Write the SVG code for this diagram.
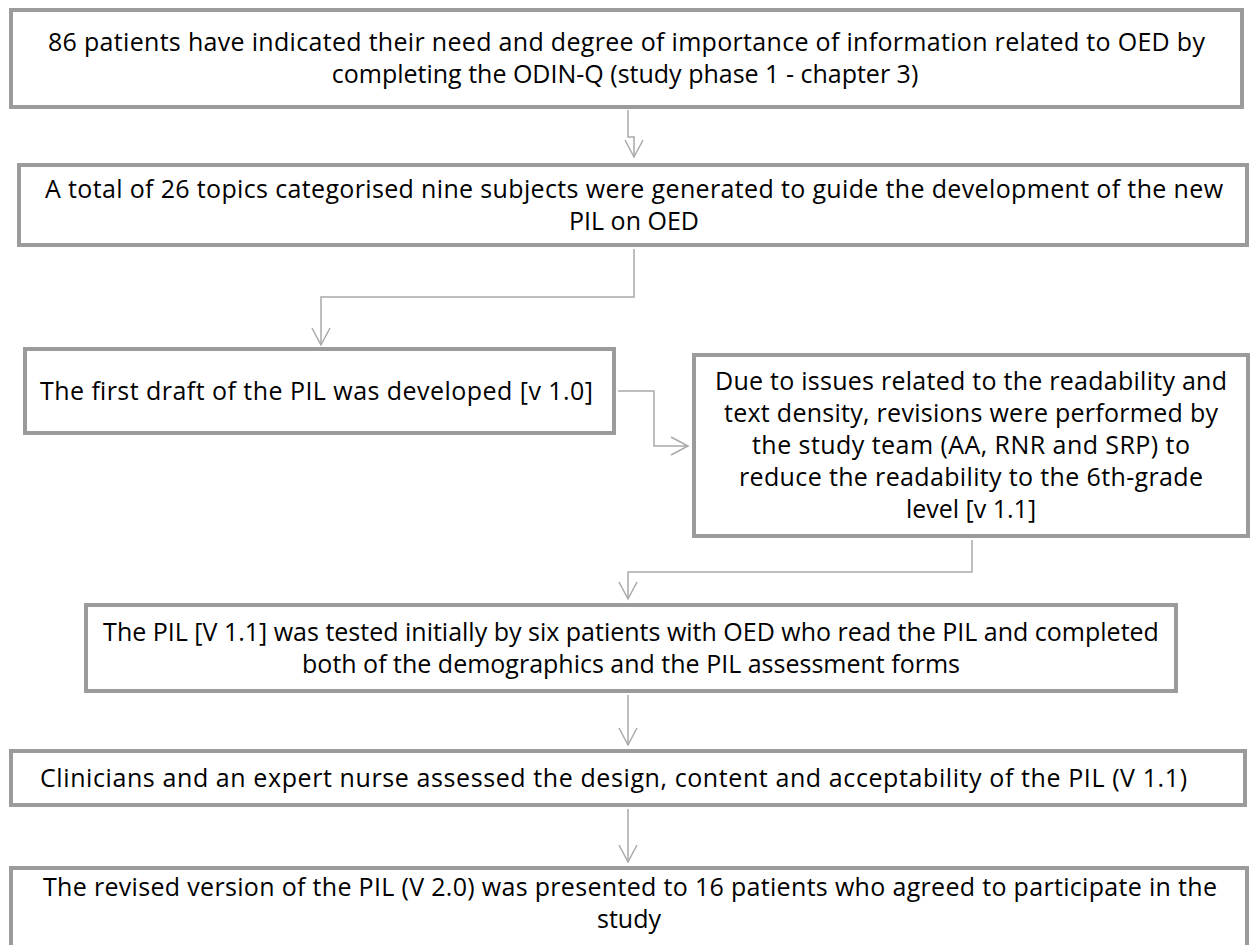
<svg xmlns="http://www.w3.org/2000/svg" width="1251" height="945" viewBox="0 0 1251 945">
  <defs>
    <style>
      .box { fill: #ffffff; stroke: #9b9b9b; stroke-width: 4; }
      .lbl { font-family: "Open Sans", "Liberation Sans", sans-serif; font-size: 25px; fill: #000000; text-anchor: middle; }
      .conn { fill: none; stroke: #a9a9a9; stroke-width: 1.5; }
    </style>
    <marker id="openArrow" viewBox="0 0 20 20" refX="18" refY="10" markerWidth="20" markerHeight="20" markerUnits="userSpaceOnUse" orient="auto">
      <path d="M1,1 L18,10 L1,19" fill="none" stroke="#a9a9a9" stroke-width="1.5"/>
    </marker>
  </defs>
  <rect width="1251" height="945" fill="#ffffff"/>

  <!-- connectors -->
  <g id="connectors">
    <path class="conn" d="M628,110 V137 H634 V157" marker-end="url(#openArrow)"/>
    <path class="conn" d="M634,249 V297 H321 V345" marker-end="url(#openArrow)"/>
    <path class="conn" d="M618,391 H654 V446 H688" marker-end="url(#openArrow)"/>
    <path class="conn" d="M972,540 V572 H628 V599" marker-end="url(#openArrow)"/>
    <path class="conn" d="M628,695 V745" marker-end="url(#openArrow)"/>
    <path class="conn" d="M628,809 V862" marker-end="url(#openArrow)"/>
  </g>

  <g id="node-odinq">
    <rect class="box" x="11" y="10" width="1231" height="97"/>
    <text class="lbl" x="626.5" y="51" textLength="1157">86 patients have indicated their need and degree of importance of information related to OED by</text>
    <text class="lbl" x="625" y="83">completing the ODIN-Q (study phase 1 - chapter 3)</text>
  </g>

  <g id="node-topics">
    <rect class="box" x="19" y="165" width="1228" height="80"/>
    <text class="lbl" x="634" y="198" textLength="1178">A total of 26 topics categorised nine subjects were generated to guide the development of the new</text>
    <text class="lbl" x="634" y="230">PIL on OED</text>
  </g>

  <g id="node-draft">
    <rect class="box" x="25" y="349" width="589" height="84"/>
    <text class="lbl" x="316.5" y="400" textLength="553">The first draft of the PIL was developed [v 1.0]</text>
  </g>

  <g id="node-revision">
    <rect class="box" x="694" y="355" width="554" height="181"/>
    <text class="lbl" x="971" y="390" textLength="512">Due to issues related to the readability and</text>
    <text class="lbl" x="971" y="422" textLength="494">text density, revisions were performed by</text>
    <text class="lbl" x="971" y="454" textLength="438">the study team (AA, RNR and SRP) to</text>
    <text class="lbl" x="971" y="486" textLength="464">reduce the readability to the 6th-grade</text>
    <text class="lbl" x="971" y="518">level [v 1.1]</text>
  </g>

  <g id="node-pilot">
    <rect class="box" x="86" y="605" width="1090" height="86"/>
    <text class="lbl" x="631" y="641">The PIL [V 1.1] was tested initially by six patients with OED who read the PIL and completed</text>
    <text class="lbl" x="631" y="673">both of the demographics and the PIL assessment forms</text>
  </g>

  <g id="node-clinicians">
    <rect class="box" x="11" y="751" width="1234" height="54"/>
    <text class="lbl" x="613.5" y="787" textLength="1147">Clinicians and an expert nurse assessed the design, content and acceptability of the PIL (V 1.1)</text>
  </g>

  <g id="node-revised">
    <rect class="box" x="11" y="868" width="1236" height="90"/>
    <text class="lbl" x="630" y="896" textLength="1174">The revised version of the PIL (V 2.0) was presented to 16 patients who agreed to participate in the</text>
    <text class="lbl" x="629" y="928">study</text>
  </g>
</svg>
